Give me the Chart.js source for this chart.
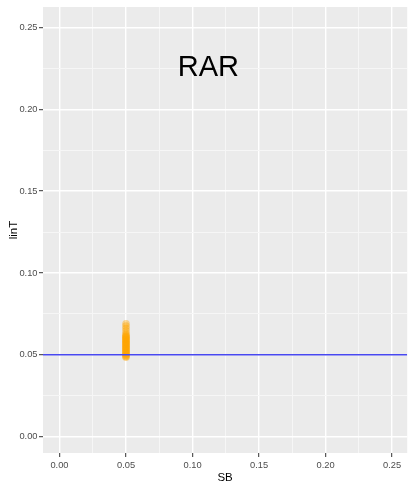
<!DOCTYPE html>
<html>
<head>
<meta charset="utf-8">
<script src="https://cdn.jsdelivr.net/npm/chart.js@4"></script>
<style>
  html, body { margin: 0; padding: 0; background: #fff; }
  #wrap { width: 411px; height: 486px; }
</style>
</head>
<body>
<div id="wrap"><canvas id="chart" width="411" height="486"></canvas></div>
<script>
// значения
const sbValue = 0.05;
const linTValues = [0.0485, 0.049, 0.0495, 0.05, 0.0505, 0.051, 0.0515, 0.052, 0.0525, 0.053,
    0.0535, 0.054, 0.0545, 0.055, 0.0555, 0.056, 0.0565, 0.057, 0.0575, 0.058,
    0.0585, 0.059, 0.0595, 0.06, 0.0605, 0.061, 0.0615, 0.062, 0.063, 0.0645,
    0.066, 0.0675, 0.069];
const refLine = 0.05;
const majorTicks = [0, 0.05, 0.1, 0.15, 0.2, 0.25];
const minorTicks = [0.025, 0.075, 0.125, 0.175, 0.225];
const xRange = [-0.0124, 0.2614];
const yRange = [-0.0100, 0.2625];
const label = { text: 'RAR', x: 0.1119, y: 0.2205 };

const allTicks = majorTicks.concat(minorTicks).sort((a, b) => a - b);
const isMajor = v => majorTicks.some(m => Math.abs(m - v) < 1e-9);
const fontFamily = '"Liberation Sans", Arial, sans-serif';

// серый фон панели как в ggplot
const panelBg = {
    id: 'panelBg',
    beforeDraw(chart) {
        const a = chart.chartArea;
        const c = chart.ctx;
        c.save();
        c.fillStyle = '#EBEBEB';
        c.fillRect(a.left, a.top, a.right - a.left, a.bottom - a.top);
        c.restore();
    }
};

// надпись RAR внутри панели
const textLabel = {
    id: 'textLabel',
    afterDatasetsDraw(chart) {
        const c = chart.ctx;
        const x = chart.scales.x.getPixelForValue(label.x);
        const y = chart.scales.y.getPixelForValue(label.y);
        c.save();
        c.fillStyle = '#000';
        c.font = '29px ' + fontFamily;
        c.textAlign = 'center';
        c.textBaseline = 'alphabetic';
        c.fillText(label.text, x, y);
        c.restore();
    }
};

function axis(range, title, opts) {
    return {
        type: 'linear',
        min: range[0],
        max: range[1],
        afterBuildTicks: s => { s.ticks = allTicks.map(v => ({ value: v })); },
        grid: {
            color: ctx => (ctx.tick && isMajor(ctx.tick.value)) ? '#FFFFFF' : '#F6F6F6',
            lineWidth: ctx => (ctx.tick && isMajor(ctx.tick.value)) ? 1.4 : 1,
            drawTicks: true,
            tickLength: 4,
            tickColor: ctx => (ctx.tick && isMajor(ctx.tick.value)) ? '#333333' : 'rgba(0,0,0,0)',
            tickWidth: 1
        },
        border: { display: false },
        ticks: {
            autoSkip: false,
            maxRotation: 0,
            padding: opts.tickPad,
            color: '#4D4D4D',
            font: { family: fontFamily, size: 9.3 },
            callback: v => isMajor(v) ? v.toFixed(2) : ''
        },
        title: {
            display: true,
            text: title,
            color: '#000',
            padding: opts.titlePad,
            font: { family: fontFamily, size: 11.5 }
        },
        afterFit: s => {
            if (opts.w) s.width = opts.w;
            if (opts.h) s.height = opts.h;
            s.paddingLeft = 0;
            s.paddingRight = 0;
            s.paddingTop = 0;
            s.paddingBottom = 0;
        }
    };
}

new Chart(document.getElementById('chart').getContext('2d'), {
    type: 'scatter',
    data: {
        datasets: [
            {
                label: 'refLine',
                type: 'line',
                data: [{ x: xRange[0], y: refLine }, { x: xRange[1], y: refLine }],
                borderColor: '#4848F0',
                borderWidth: 1.5,
                pointRadius: 0,
                fill: false
            },
            {
                label: 'RAR',
                data: linTValues.map(v => ({ x: sbValue, y: v })),
                backgroundColor: 'rgba(255,165,0,0.4)',
                borderWidth: 0,
                pointRadius: 3.8,
                pointHoverRadius: 3.8
            }
        ]
    },
    options: {
        responsive: false,
        animation: false,
        layout: { padding: { top: 7, right: 0, left: 0, bottom: 0 } },
        scales: {
            x: axis(xRange, 'SB', { h: 33, tickPad: 3, titlePad: { top: 0, bottom: 1 } }),
            y: axis(yRange, 'linT', { w: 43, tickPad: 1.5, titlePad: { top: 6.5, bottom: 0 } })
        },
        plugins: {
            legend: { display: false },
            tooltip: { enabled: false }
        }
    },
    plugins: [panelBg, textLabel]
});
</script>
</body>
</html>
